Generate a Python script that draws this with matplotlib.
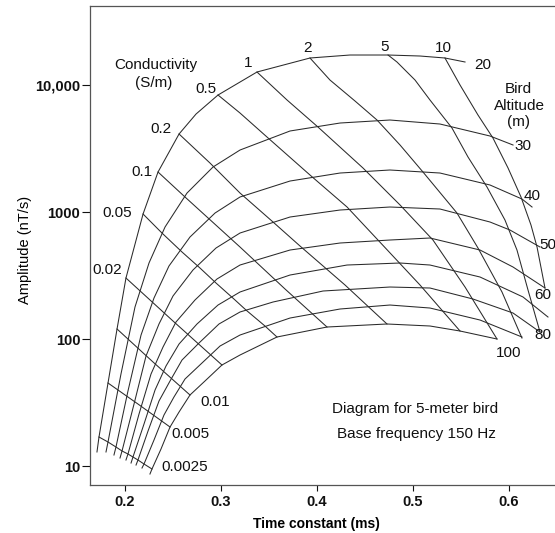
import matplotlib
matplotlib.use("Agg")
import matplotlib.pyplot as plt
from matplotlib.ticker import NullLocator

plt.rcParams['font.family'] = ['Liberation Sans', 'DejaVu Sans']

# ---------------- data ----------------
altitudes = [20, 30, 40, 50, 60, 70, 80, 90, 100]   # bird altitude (m)

# constant-altitude curves: time constant (ms) and amplitude (nT/s)
arc_tau = {
    20: [.1708, .1729, .1823, .1917, .2010, .2188, .2344, .2563, .2740, .2969, .3375, .3927, .4344, .4740, .5073, .5333, .5542],
    30: [.1802, .1823, .1958, .2104, .2250, .2417, .2646, .2917, .3198, .3719, .4240, .4760, .5281, .5802, .6042],
    40: [.1885, .1906, .2031, .2167, .2302, .2458, .2677, .2938, .3198, .3719, .4240, .4760, .5281, .5802, .6135, .6240],
    50: [.1948, .1969, .2094, .2219, .2354, .2500, .2708, .2948, .3198, .3719, .4240, .4760, .5281, .5802, .6010, .6323],
    60: [.2010, .2031, .2146, .2271, .2396, .2531, .2729, .2958, .3198, .3719, .4240, .4760, .5177, .5698, .6042, .6375],
    70: [.2063, .2083, .2198, .2313, .2427, .2563, .2750, .2969, .3198, .3719, .4313, .4865, .5177, .5698, .6146, .6406],
    80: [.2115, .2135, .2240, .2354, .2469, .2594, .2771, .2979, .3198, .3542, .4063, .4760, .5177, .5625, .6042, .6323],
    90: [.2177, .2198, .2302, .2406, .2510, .2625, .2802, .2990, .3198, .3719, .4240, .4760, .5177, .5698, .6135],
    100: [.2260, .2281, .2375, .2469, .2563, .2677, .2833, .3010, .3198, .3583, .4104, .4729, .5177, .5490, .5875],
}
arc_amp = {
    20: [12.9, 16.9, 45.0, 119.9, 302, 964, 2065, 4114, 5910, 8343, 12660, 16320, 17230, 17230, 16920, 16320, 15180],
    30: [12.9, 15.45, 53.0, 178.6, 396.7, 761.8, 1411, 2262, 3077, 4345, 5021, 5302, 4931, 3967, 3370],
    40: [12.21, 14.11, 38.96, 107.5, 210.3, 375.7, 635.6, 982, 1313, 1754, 2028, 2142, 2028, 1632, 1266, 1095],
    50: [11.56, 13.13, 30.77, 73.48, 131.3, 218.1, 349.4, 520.6, 683.3, 913.4, 1037, 1095, 1056, 834.3, 721.5, 530.2],
    60: [11.15, 12.43, 25.67, 53.02, 86.5, 136.1, 202.8, 296.8, 382.5, 502.1, 570.1, 601.9, 624.2, 502.1, 368.9, 252.1],
    70: [10.56, 11.77, 21.42, 39.67, 61.29, 91.34, 131.3, 185.2, 234.5, 319.1, 382.5, 396.7, 382.5, 307.8, 214.2, 149.0],
    80: [10.18, 11.15, 18.87, 32.49, 46.70, 68.33, 93.01, 131.3, 163.2, 195.6, 238.8, 256.7, 252.1, 206.5, 160.2, 113.5],
    90: [9.644, 10.37, 16.02, 25.21, 34.94, 48.42, 64.72, 88.08, 107.5, 146.3, 172.3, 185.2, 175.4, 141.1, 103.7],
    100: [8.650, 9.471, 13.61, 20.28, 26.62, 36.23, 46.70, 62.42, 74.82, 103.7, 124.3, 131.3, 126.6, 115.6, 100.0],
}

# constant-conductivity curves (S/m)
conductivities = ['0.0025', '0.005', '0.01', '0.02', '0.05', '0.1', '0.2', '0.5', '1', '2', '5', '10']
cond_tau = {
    '0.0025': [.1729, .1823, .1906, .1969, .2031, .2083, .2135, .2198, .2281],
    '0.005': [.1823, .2135, .2469],
    '0.01': [.1917, .2292, .2677],
    '0.02': [.2010, .2500, .3010],
    '0.05': [.2188, .2385, .2594, .2781, .2948, .3135, .3260, .3458, .3583],
    '0.1': [.2344, .2625, .3198, .3667, .4104],
    '0.2': [.2563, .2885, .3198, .3542, .3823, .4292, .4729],
    '0.5': [.2969, .3198, .3479, .3927, .4313, .4635, .5073, .5490],
    '1': [.3375, .3688, .4010, .4479, .4865, .5208, .5542, .5875],
    '2': [.3927, .4135, .4396, .4625, .4865, .5104, .5458, .5677, .5927, .6135],
    '5': [.4740, .4833, .5021, .5177, .5406, .5573, .5771, .5958, .6083, .6198, .6323],
    '10': [.5333, .5490, .5677, .5833, .5990, .6125, .6229, .6292, .6375],
}
cond_amp = {
    '0.0025': [16.92, 15.45, 14.11, 13.13, 12.43, 11.77, 11.15, 10.37, 9.471],
    '0.005': [45.03, 30.77, 20.28],
    '0.01': [119.9, 65.90, 36.23],
    '0.02': [302.2, 138.6, 62.42],
    '0.05': [964.5, 683.3, 484.2, 362.3, 276.0, 206.5, 169.2, 126.6, 103.7],
    '0.1': [2065, 1313, 530.2, 247.6, 124.3],
    '0.2': [4114, 2432, 1411, 834.3, 539.9, 266.2, 131.3],
    '0.5': [8343, 6019, 3896, 1956, 1095, 601.9, 266.2, 115.6],
    '1': [12660, 7619, 4670, 2221, 1136, 601.9, 256.7, 100.0],
    '2': [16320, 10950, 7482, 5302, 3370, 2065, 982.0, 520.6, 234.5, 101.8],
    '5': [17230, 15180, 10950, 7619, 4586, 2711, 1573, 865.0, 502.1, 243.2, 113.5],
    '10': [16320, 10000, 5804, 3825, 2221, 1313, 790.0, 530.2, 252.1],
}

x_ticks = [0.2, 0.3, 0.4, 0.5, 0.6]
x_ticklabels = ['0.2', '0.3', '0.4', '0.5', '0.6']
y_ticks = [10, 100, 1000, 10000]
y_ticklabels = ['10', '100', '1000', '10,000']

# ---------------- figure ----------------
W, H = 555, 533
fig = plt.figure(figsize=(W / 100, H / 100), dpi=100)
ax = fig.add_axes([90 / W, 48 / H, 465 / W, 479 / H])

line_kw = dict(color='#2a2a2a', lw=0.75, solid_joinstyle='round')
for h in altitudes:
    ax.plot(arc_tau[h], arc_amp[h], **line_kw)
for c in conductivities:
    ax.plot(cond_tau[c], cond_amp[c], **line_kw)

ax.set_yscale('log')
ax.set_xlim(0.16354, 0.64792)
ax.set_ylim(7.087, 41900)
ax.set_xticks(x_ticks)
ax.set_xticklabels(x_ticklabels)
ax.set_yticks(y_ticks)
ax.set_yticklabels(y_ticklabels)
ax.yaxis.set_minor_locator(NullLocator())
ax.xaxis.set_minor_locator(NullLocator())
for lab in ax.get_xticklabels() + ax.get_yticklabels():
    lab.set_fontweight('bold')
    lab.set_fontsize(10.5)
ax.tick_params(axis='x', direction='out', length=4, width=0.8, pad=3, colors='#111')
ax.tick_params(axis='y', direction='out', length=6, width=0.8, pad=1, colors='#111')
for s in ['left', 'bottom', 'top']:
    ax.spines[s].set_color('#555')
    ax.spines[s].set_linewidth(0.9)
ax.spines['right'].set_visible(False)

ax.set_xlabel('Time constant (ms)', fontsize=10, fontweight='bold')
ax.xaxis.set_label_coords(0.488, -0.066)
ax.set_ylabel('Amplitude (nT/s)', fontsize=10.5)
ax.yaxis.set_label_coords(-0.125, 0.49)

# ---------------- annotations ----------------
fs = 11
txt = dict(fontsize=fs, ha='center', va='center', color='#111')
ax.text(0.2323, 14370, 'Conductivity', **txt)
ax.text(0.2302, 10370, '(S/m)', **txt)

cond_label_pos = {
    '1': (0.3281, 14900), '2': (0.3896, 19560), '5': (0.4708, 19920), '10': (0.5313, 19560),
    '0.5': (0.2844, 9301), '0.2': (0.2375, 4503), '0.1': (0.2177, 2065), '0.05': (0.1917, 982),
    '0.02': (0.1813, 349.4), '0.01': (0.2938, 31.9), '0.005': (0.2677, 17.86), '0.0025': (0.2625, 9.82),
}
for c in conductivities:
    tx, ty = cond_label_pos[c]
    ax.text(tx, ty, c, **txt)

ax.text(0.6094, 9301, 'Bird', **txt)
ax.text(0.6104, 6833, 'Altitude', **txt)
ax.text(0.6094, 5113, '(m)', **txt)

alt_label_pos = {20: (0.5729, 14370), 30: (0.6146, 3308), 40: (0.6240, 1337), 50: (0.6406, 549.9),
                 60: (0.6354, 222.0), 80: (0.6354, 107.5), 100: (0.6000, 77.6)}
for h, (tx, ty) in alt_label_pos.items():
    ax.text(tx, ty, str(h), clip_on=False, **txt)

ax.text(0.5021, 28.1, 'Diagram for 5-meter bird', **txt)
ax.text(0.5031, 17.86, 'Base frequency 150 Hz', **txt)

fig.savefig('out.png', dpi=100)
